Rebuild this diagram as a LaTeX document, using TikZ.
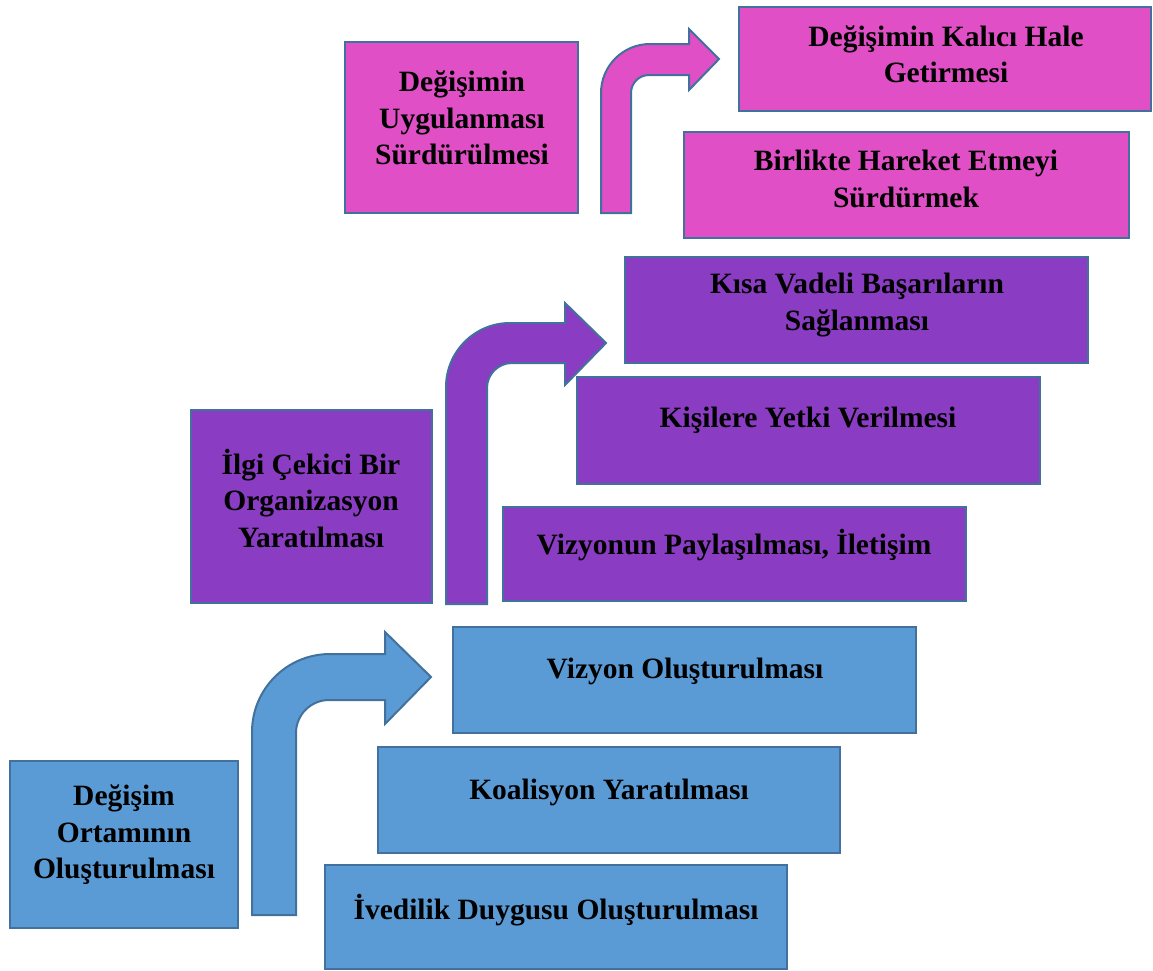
\documentclass[tikz,border=0pt]{standalone}
\usepackage{fontspec}
\setmainfont{Liberation Serif}
\definecolor{bfill}{HTML}{5B9BD5}
\definecolor{pfill}{HTML}{8A3CC2}
\definecolor{kfill}{HTML}{E04FC5}
\definecolor{edge}{HTML}{41719C}
\tikzset{
  box/.style={draw=edge, line width=2pt, inner sep=0pt, outer sep=0pt},
  txt/.style={align=center, font=\bfseries\fontsize{29.5}{36.5}\selectfont, text=black, inner sep=0pt},
  arrowshape/.style={draw=edge, line width=2pt, line join=miter}
}
\begin{document}
\begin{tikzpicture}[x=1pt,y=-1pt]
\useasboundingbox (0,0) rectangle (1153,970);
% blue
\node[box, fill=bfill, minimum width=228pt, minimum height=167pt] (b1) at (124,844.5) {};
\node[box, fill=bfill, minimum width=462pt, minimum height=104pt] (b2) at (556,917) {};
\node[box, fill=bfill, minimum width=462pt, minimum height=106pt] (b3) at (609,800) {};
\node[box, fill=bfill, minimum width=463pt, minimum height=106pt] (b4) at (684.5,680) {};
\node[txt] (tb1) at (124,835) {Değişim\\Ortamının\\Oluşturulması};
\node[txt] (tb2) at (556,910) {İvedilik Duygusu Oluşturulması};
\node[txt] (tb3) at (609,792) {Koalisyon Yaratılması};
\node[txt] (tb4) at (685,671) {Vizyon Oluşturulması};
\draw[arrowshape, fill=bfill] (252,915) -- (252,732) arc[start angle=180,end angle=270,radius=78] -- (385,654) -- (385,632) -- (431,677) -- (385,724) -- (385,700) -- (329,700) arc[start angle=270,end angle=180,radius=33] -- (296,915) -- cycle;
% purple
\node[box, fill=pfill, minimum width=241pt, minimum height=193pt] (p1) at (311.5,506.5) {};
\node[box, fill=pfill, minimum width=463pt, minimum height=94pt] (p2) at (734.5,554) {};
\node[box, fill=pfill, minimum width=463pt, minimum height=107pt] (p3) at (808.5,430.5) {};
\node[box, fill=pfill, minimum width=463pt, minimum height=106pt] (p4) at (856.5,310) {};
\node[txt] (tp1) at (311,498) {İlgi Çekici Bir\\Organizasyon\\Yaratılması};
\node[txt] (tp2) at (734,545) {Vizyonun Paylaşılması, İletişim};
\node[txt] (tp3) at (808,420) {Kişilere Yetki Verilmesi};
\node[txt] (tp4) at (857,305) {Kısa Vadeli Başarıların\\Sağlanması};
\draw[arrowshape, fill=pfill] (446,604) -- (446,387) arc[start angle=180,end angle=270,radius=64] -- (565,323) -- (565,303) -- (606,343) -- (565,385) -- (565,363) -- (512,363) arc[start angle=270,end angle=180,radius=25] -- (487,604) -- cycle;
% pink
\node[box, fill=kfill, minimum width=233pt, minimum height=171pt] (k1) at (461.5,127.5) {};
\node[box, fill=kfill, minimum width=445pt, minimum height=106pt] (k2) at (906.5,185) {};
\node[box, fill=kfill, minimum width=412pt, minimum height=104pt] (k3) at (945,59) {};
\node[txt] (tk1) at (462,118) {Değişimin\\Uygulanması\\Sürdürülmesi};
\node[txt] (tk2) at (906,179) {Birlikte Hareket Etmeyi\\Sürdürmek};
\node[txt] (tk3) at (946,54) {Değişimin Kalıcı Hale\\Getirmesi};
\draw[arrowshape, fill=kfill] (601,213) -- (601,93) arc[start angle=180,end angle=270,radius=49] -- (689,44) -- (689,29) -- (719,59) -- (689,90) -- (689,75) -- (649,75) arc[start angle=270,end angle=180,radius=18] -- (631,213) -- cycle;
\end{tikzpicture}
\end{document}
